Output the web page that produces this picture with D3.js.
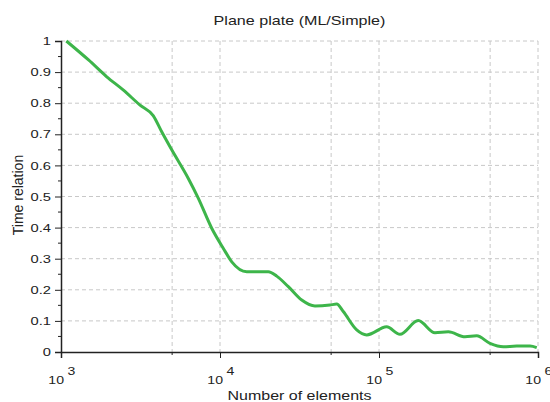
<!DOCTYPE html>
<html>
<head>
<meta charset="utf-8">
<script src="https://cdn.jsdelivr.net/npm/d3@7"></script>
<style>
  body { margin: 0; background: #fff; }
  text { font-family: "Liberation Sans", Arial, sans-serif; fill: #222; }
</style>
</head>
<body>
<svg id="chart" width="550" height="402"></svg>
<script>
// number of elements (x, log axis) and time relation (y)
var elements = [1080, 1490, 1940, 2470, 3140, 3800, 4300, 4970, 6320, 7310, 8870, 10500,
  11860, 14730, 20140, 22740, 26900, 32660, 39560, 49150, 54200, 59600, 72400, 83700,
  111700, 135500, 176500, 224900, 272900, 347600, 411600, 498800, 605000, 734000, 891000, 982000];
var timeRelation = [1.0, 0.939, 0.885, 0.842, 0.794, 0.760, 0.708, 0.650, 0.558, 0.494, 0.398, 0.333,
  0.290, 0.258, 0.258, 0.244, 0.210, 0.167, 0.148, 0.151, 0.154, 0.130, 0.071, 0.055,
  0.081, 0.057, 0.101, 0.062, 0.065, 0.049, 0.052, 0.028, 0.017, 0.019, 0.019, 0.014];

var xMajor = [1e3, 1e4, 1e5, 1e6];
var xMinor = [5e3, 5e4, 5e5];
var yMajor = [0, 0.1, 0.2, 0.3, 0.4, 0.5, 0.6, 0.7, 0.8, 0.9, 1];

var pLeft = 61, pRight = 538, pTop = 41, pBottom = 352;
var stretch = 1.28; // the reference type is wide

var svg = d3.select("#chart")

var x = d3.scaleLog().domain([1e3, 1e6]).range([pLeft, pRight])
var y = d3.scaleLinear().domain([0, 1]).range([pBottom, pTop])

// grid
svg.append("g").selectAll("line")
  .data(yMajor.filter(function(d){ return d > 0 }))
  .enter().append("line")
    .attr("x1", pLeft).attr("x2", pRight)
    .attr("y1", function(d){ return y(d) }).attr("y2", function(d){ return y(d) })
    .style("stroke", "#c8c8c8").style("stroke-dasharray", "4,3")

svg.append("g").selectAll("line")
  .data(xMinor.concat(xMajor.slice(1)))
  .enter().append("line")
    .attr("x1", function(d){ return x(d) }).attr("x2", function(d){ return x(d) })
    .attr("y1", pTop).attr("y2", pBottom)
    .style("stroke", "#c8c8c8").style("stroke-dasharray", "4,3")

// y axis
var yAxis = svg.append("g")
  .attr("transform", "translate(" + pLeft + ",0)")
  .call(d3.axisLeft(y).tickValues(yMajor).tickSize(6).tickPadding(4)
    .tickFormat(function(d){ return d === 0 || d === 1 ? d : d3.format(".1f")(d) }))
yAxis.select(".domain").attr("stroke", "#222").attr("stroke-width", 1.5)
yAxis.selectAll("text")
  .attr("x", 0)
  .attr("transform", "translate(-10,0) scale(" + stretch + ",1)")
  .style("font-size", "11.5px").style("fill", "#222")
yAxis.selectAll("line").attr("stroke", "#222")

svg.append("g").selectAll("line")
  .data(d3.range(0.05, 1, 0.1))
  .enter().append("line")
    .attr("x1", pLeft - 3).attr("x2", pLeft)
    .attr("y1", function(d){ return y(d) }).attr("y2", function(d){ return y(d) })
    .style("stroke", "#222")

// x axis
var xAxis = svg.append("g")
  .attr("transform", "translate(0," + pBottom + ")")
  .call(d3.axisBottom(x).tickValues(xMajor).tickSize(6).tickFormat(""))
xAxis.select(".domain").attr("stroke", "#222").attr("stroke-width", 1.5)
xAxis.selectAll("line").attr("stroke", "#222")

svg.append("g").selectAll("line")
  .data(xMinor)
  .enter().append("line")
    .attr("x1", function(d){ return x(d) }).attr("x2", function(d){ return x(d) })
    .attr("y1", pBottom).attr("y2", pBottom + 3)
    .style("stroke", "#222")

var xl = svg.append("g").selectAll("g")
  .data(xMajor)
  .enter().append("g")
xl.append("text")
  .attr("transform", function(d){ return "translate(" + (x(d) + 3) + ",384) scale(" + stretch + ",1)" })
  .attr("text-anchor", "end")
  .style("font-size", "11px")
  .text("10")
xl.append("text")
  .attr("transform", function(d){ return "translate(" + (x(d) + 6.5) + ",375) scale(" + stretch + ",1)" })
  .style("font-size", "11px")
  .text(function(d){ return Math.round(Math.log10(d)) })

// curve
var pts = elements.map(function(d, i){ return [d, timeRelation[i]] })
svg.append("path")
  .datum(pts)
  .attr("d", d3.line()
    .x(function(d){ return x(d[0]) })
    .y(function(d){ return y(d[1]) })
    .curve(d3.curveMonotoneX))
  .style("fill", "none")
  .style("stroke", "#3db54a")
  .style("stroke-width", 3)

// labels
svg.append("text")
  .attr("transform", "translate(" + (pLeft + pRight) / 2 + ",25) scale(1.24,1)")
  .attr("text-anchor", "middle")
  .style("font-size", "13px")
  .text("Plane plate (ML/Simple)")

svg.append("text")
  .attr("transform", "translate(" + (pLeft + pRight) / 2 + ",400) scale(" + stretch + ",1)")
  .attr("text-anchor", "middle")
  .style("font-size", "12.5px")
  .text("Number of elements")

svg.append("text")
  .attr("transform", "translate(23,195) rotate(-90)")
  .attr("text-anchor", "middle")
  .style("font-size", "14px")
  .text("Time relation")
</script>
</body>
</html>
